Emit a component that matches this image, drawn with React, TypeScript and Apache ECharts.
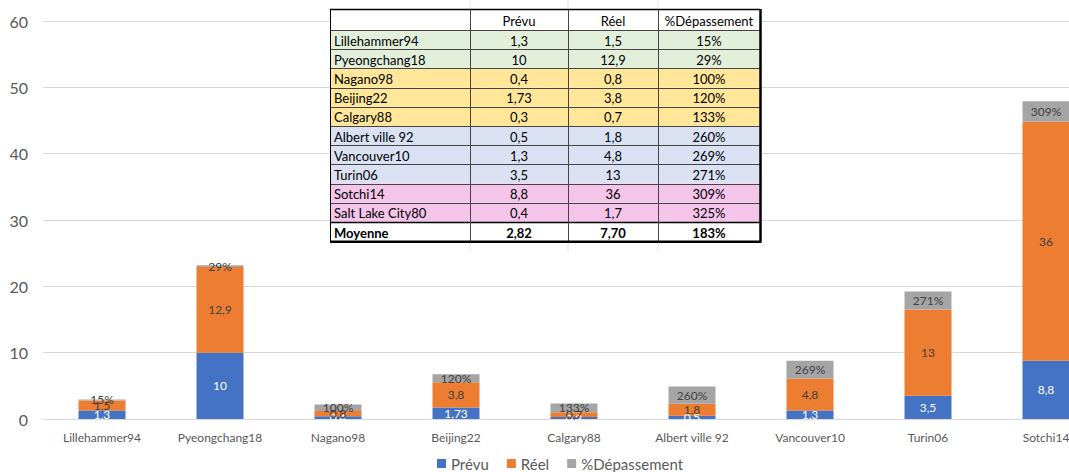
import React, { useEffect, useRef } from "react";
import * as echarts from "echarts";

const categories = [
  "Lillehammer94",
  "Pyeongchang18",
  "Nagano98",
  "Beijing22",
  "Calgary88",
  "Albert ville 92",
  "Vancouver10",
  "Turin06",
  "Sotchi14",
];
const tableNames = [
  "Lillehammer94",
  "Pyeongchang18",
  "Nagano98",
  "Beijing22",
  "Calgary88",
  "Albert ville 92",
  "Vancouver10",
  "Turin06",
  "Sotchi14",
  "Salt Lake City80",
];
const prevu = [1.3, 10, 0.4, 1.73, 0.3, 0.5, 1.3, 3.5, 8.8, 0.4];
const reel = [1.5, 12.9, 0.8, 3.8, 0.7, 1.8, 4.8, 13, 36, 1.7];
const depassement = [0.15, 0.29, 1.0, 1.2, 1.33, 2.6, 2.69, 2.71, 3.09, 3.25];
const rowColors = [
  "#E2EFDA", "#E2EFDA",
  "#FFE699", "#FFE699", "#FFE699",
  "#D9E1F2", "#D9E1F2", "#D9E1F2",
  "#F4C4EA", "#F4C4EA",
];
const headers = ["", "Prévu", "Réel", "%Dépassement"];

const fr = (v: number) => String(v).replace(".", ",");
const pct = (v: number) => Math.round(v * 100) + "%";

function buildTable() {
  const colX = [330, 470, 568, 658, 760];
  const top = 9;
  const headerH = 21;
  const rowH = 19.2;
  const n = tableNames.length;
  const avg = (a: number[]) => a.reduce((s, x) => s + x, 0) / a.length;
  const rows: string[][] = tableNames.map((name, i) => [
    name,
    fr(prevu[i]),
    fr(reel[i]),
    pct(depassement[i]),
  ]);
  rows.push([
    "Moyenne",
    avg(prevu).toFixed(2).replace(".", ","),
    avg(reel).toFixed(2).replace(".", ","),
    pct(avg(depassement)),
  ]);
  const bottom = top + headerH + rowH * (n + 1);
  const els: any[] = [];
  const font = "13px Lato";
  [470, 568, 658].forEach((x) => {
    els.push({
      type: "line",
      shape: { x1: x, y1: 0, x2: x, y2: bottom + 10 },
      style: { stroke: "#e4e4e4", lineWidth: 1 },
      z: 99,
    });
  });
  els.push({
    type: "rect",
    shape: { x: colX[0], y: top, width: colX[4] - colX[0], height: bottom - top },
    style: { fill: "#ffffff" },
    z: 100,
  });
  rows.forEach((r, i) => {
    const y = top + headerH + rowH * i;
    els.push({
      type: "rect",
      shape: { x: colX[0], y, width: colX[4] - colX[0], height: rowH },
      style: { fill: i < n ? rowColors[i] : "#ffffff" },
      z: 100,
    });
  });
  for (let i = 0; i <= n + 1; i++) {
    const y = Math.round(top + headerH + rowH * i) + 0.5;
    els.push({
      type: "line",
      shape: { x1: colX[0], y1: y, x2: colX[4], y2: y },
      style: { stroke: i === n ? "#000" : "#444", lineWidth: i === n ? 1.5 : 1 },
      z: 101,
    });
  }
  colX.forEach((x, j) => {
    els.push({
      type: "line",
      shape: { x1: x + 0.5, y1: top, x2: x + 0.5, y2: bottom },
      style: { stroke: j === 0 || j === 4 ? "#000" : "#444", lineWidth: j === 4 ? 2.5 : 1 },
      z: 101,
    });
  });
  els.push({
    type: "line",
    shape: { x1: colX[0], y1: top + 0.5, x2: colX[4], y2: top + 0.5 },
    style: { stroke: "#000", lineWidth: 1.5 },
    z: 102,
  });
  els.push({
    type: "line",
    shape: { x1: colX[0], y1: bottom + 0.5, x2: colX[4] + 1.5, y2: bottom + 0.5 },
    style: { stroke: "#000", lineWidth: 2.5 },
    z: 102,
  });
  headers.forEach((h, j) => {
    if (!h) return;
    els.push({
      type: "text",
      x: (colX[j] + colX[j + 1]) / 2,
      y: top + headerH / 2 + 1,
      style: {
        text: h,
        font,
        fill: "#000",
        align: "center",
        verticalAlign: "middle",
        textAlign: "center",
        textVerticalAlign: "middle",
      },
      z: 103,
    });
  });
  rows.forEach((r, i) => {
    const yc = top + headerH + rowH * i + rowH / 2 + 1;
    const bold = i === n;
    r.forEach((t, j) => {
      const left = j === 0;
      els.push({
        type: "text",
        x: left ? colX[0] + 4 : (colX[j] + colX[j + 1]) / 2,
        y: yc,
        style: {
          text: t,
          font: (bold ? "bold " : "") + font,
          fill: "#000",
          align: left ? "left" : "center",
          verticalAlign: "middle",
          textAlign: left ? "left" : "center",
          textVerticalAlign: "middle",
        },
        z: 103,
      });
    });
  });
  return els;
}

export default function App() {
  const ref = useRef<HTMLDivElement>(null);
  useEffect(() => {
    if (!ref.current) return;
    const chart = echarts.init(ref.current, null, { renderer: "svg" });
    const nC = categories.length;
    const labelBase = { show: true, fontSize: 12, fontFamily: "Lato" };
    chart.setOption({
      animation: false,
      textStyle: { fontFamily: "Lato" },
      grid: {
        left: 43,
        top: 21,
        width: 1062,
        height: 398,
        containLabel: false,
        outerBoundsMode: "none",
      },
      legend: {
        left: 432,
        top: 451,
        icon: "rect",
        itemWidth: 9,
        itemHeight: 9,
        itemGap: 18,
        textStyle: { fontSize: 15, color: "#595959", fontFamily: "Lato" },
        data: ["Prévu", "Réel", "%Dépassement"],
      },
      xAxis: {
        type: "category",
        data: categories,
        axisLine: { lineStyle: { color: "#d9d9d9", width: 1 } },
        axisTick: { show: false },
        axisLabel: { fontSize: 12, color: "#595959", margin: 12, fontFamily: "Lato", interval: 0 },
      },
      yAxis: {
        type: "value",
        min: 0,
        max: 60,
        interval: 10,
        axisLine: { show: false },
        axisTick: { show: false },
        axisLabel: { fontSize: 16, color: "#595959", margin: 15, fontFamily: "Lato" },
        splitLine: { lineStyle: { color: "#d9d9d9", width: 1 } },
      },
      series: [
        {
          name: "Prévu",
          type: "bar",
          stack: "s",
          barWidth: 47,
          itemStyle: { color: "#4472C4" },
          label: { ...labelBase, position: "inside", color: "#ffffff", formatter: (p: any) => fr(p.value) },
          data: prevu.slice(0, nC),
        },
        {
          name: "Réel",
          type: "bar",
          stack: "s",
          barWidth: 47,
          itemStyle: { color: "#ED7D31" },
          label: { ...labelBase, position: "inside", color: "#404040", formatter: (p: any) => fr(p.value) },
          data: reel.slice(0, nC),
        },
        {
          name: "%Dépassement",
          type: "bar",
          stack: "s",
          barWidth: 47,
          itemStyle: { color: "#A5A5A5" },
          label: { ...labelBase, position: "inside", color: "#404040", formatter: (p: any) => pct(p.value) },
          data: depassement.slice(0, nC),
        },
      ],
      graphic: { elements: buildTable() },
    });
    return () => chart.dispose();
  }, []);
  return (
    <div
      ref={ref}
      style={{ position: "absolute", left: 0, top: 0, width: 1069, height: 472 }}
    />
  );
}
